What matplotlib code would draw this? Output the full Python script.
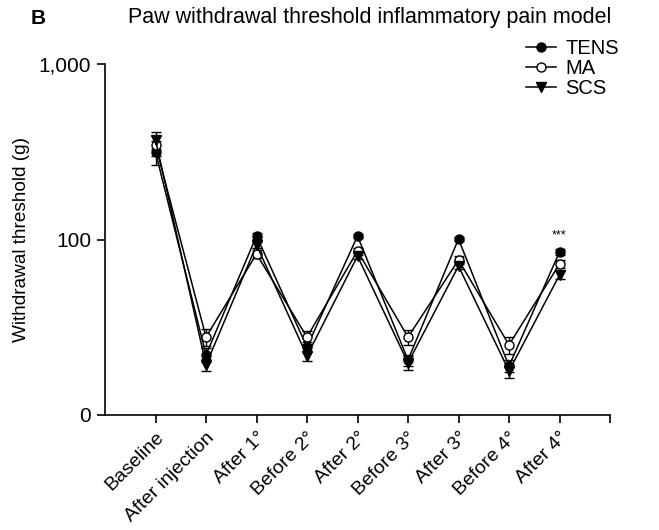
import matplotlib
matplotlib.use("Agg")
import matplotlib.pyplot as plt
from matplotlib.ticker import FixedLocator, NullLocator
from matplotlib.lines import Line2D

plt.rcParams['font.family'] = ['Liberation Sans', 'DejaVu Sans']

categories = ["Baseline", "After injection", "After 1°", "Before 2°", "After 2°",
              "Before 3°", "After 3°", "Before 4°", "After 4°"]
tens = [315, 22.0, 104.7, 24.4, 104.7, 20.6, 100.7, 19.0, 84.9]
ma = [345, 27.8, 82.7, 27.8, 86.0, 27.8, 76.4, 25.1, 72.5]
scs = [369, 19.3, 93.0, 21.7, 80.5, 19.8, 70.6, 17.8, 62.8]
tens_err = [50, 2.0, 3.5, 1.5, 3.0, 1.5, 3.0, 1.5, 3.5]
ma_err = [45, 3.0, 4.0, 2.5, 4.0, 2.8, 4.0, 2.8, 4.0]
scs_err = [40, 1.6, 3.5, 1.5, 3.0, 1.8, 3.0, 1.6, 3.5]
yticks = [10, 100, 1000]
yticklabels = ["0", "100", "1,000"]

fig = plt.figure(figsize=(6.59, 5.30), dpi=100)
ax = fig.add_axes([105/659, 1-415/530, (610-105)/659, (415-64)/530])

x = list(range(len(categories)))
common = dict(color='black', lw=1.1, capsize=3.5, elinewidth=1.0, capthick=1.0,
              markersize=6.5, markeredgewidth=1.0)
ax.errorbar(x, tens, yerr=tens_err, marker='o', mfc='black', **common)
ax.errorbar(x, ma, yerr=ma_err, marker='o', mfc='white', **common)
ax.errorbar(x, scs, yerr=scs_err, marker='v', mfc='black', **common)

ax.set_yscale('log')
ax.set_ylim(10, 1000)
ax.yaxis.set_major_locator(FixedLocator(yticks))
ax.yaxis.set_minor_locator(NullLocator())
ax.set_yticklabels(yticklabels)
ax.set_xlim(-1, 9)
ax.set_xticks(list(range(0, 10)))
ax.set_xticklabels(categories + [""], rotation=45, ha='right', rotation_mode='anchor')

for s in ['top', 'right']:
    ax.spines[s].set_visible(False)
for s in ['left', 'bottom']:
    ax.spines[s].set_linewidth(1.2)
ax.tick_params(direction='out', length=6, width=1.2, labelsize=14, pad=4)
ax.tick_params(axis='y', labelsize=15)
ax.set_ylabel("Withdrawal threshold (g)", fontsize=13.7, labelpad=6)

ax.text(8, tens[8] + tens_err[8] + 9, "***", ha='center', va='bottom', fontsize=9)

fig.text(370/659, 1-18/530, "Paw withdrawal threshold inflammatory pain model",
         ha='center', va='center', fontsize=15.5)
fig.text(38/659, 1-19/530, "B", ha='center', va='center', fontsize=15, fontweight='bold')

handles = [
    Line2D([], [], color='black', lw=1.1, marker='o', mfc='black', markersize=6.5),
    Line2D([], [], color='black', lw=1.1, marker='o', mfc='white', markersize=6.5),
    Line2D([], [], color='black', lw=1.1, marker='v', mfc='black', markersize=6.5),
]
fig.legend(handles=handles, labels=['TENS', 'MA', 'SCS'],
           loc='upper left', bbox_to_anchor=(526/659, 1-39/530),
           frameon=False, fontsize=14.5, handlelength=1.5, handletextpad=0.45,
           labelspacing=0.05, borderaxespad=0, borderpad=0)

fig.savefig("out.png", dpi=100)
